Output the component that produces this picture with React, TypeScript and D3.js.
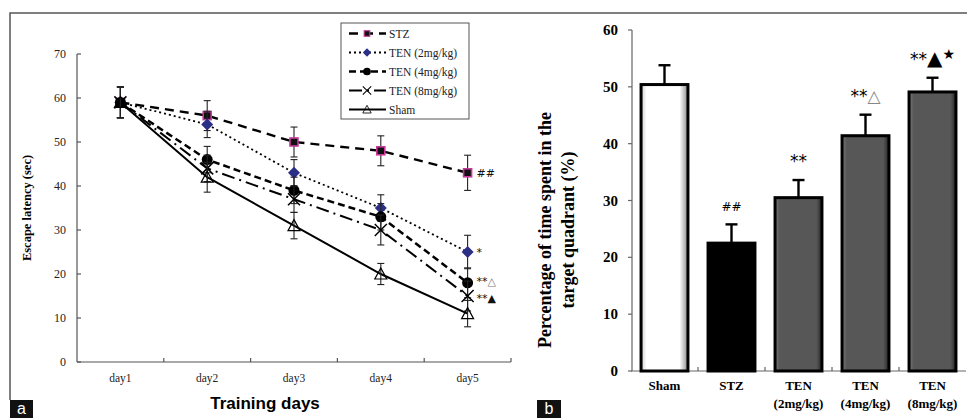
import React from 'react';
import * as d3 from 'd3';

const days = ['day1', 'day2', 'day3', 'day4', 'day5'];
const seriesNames = ['STZ', 'TEN (2mg/kg)', 'TEN (4mg/kg)', 'TEN (8mg/kg)', 'Sham'];
const stzLatency = [59, 56, 50, 48, 43];
const ten2Latency = [59, 54, 43, 35, 25];
const ten4Latency = [59, 46, 39, 33, 18];
const ten8Latency = [59, 44, 37, 30, 15];
const shamLatency = [59, 42, 31, 20, 11];
const stzErr = [3.5, 3.4, 3.4, 3.4, 4];
const ten2Err = [3.5, 3, 3, 3, 3.8];
const ten4Err = [3.5, 3, 3, 3, 3.4];
const ten8Err = [3.5, 3, 3, 3.4, 3.4];
const shamErr = [3.5, 3.4, 3, 2.4, 3];
const latencyTicks = [0, 10, 20, 30, 40, 50, 60, 70];
const day5Marks = ['##', '*', '**△', '**▲', ''];

const groups = ['Sham', 'STZ', 'TEN (2mg/kg)', 'TEN (4mg/kg)', 'TEN (8mg/kg)'];
const percentTime = [50.4, 22.5, 30.5, 41.4, 49.1];
const percentErr = [3.4, 3.3, 3.1, 3.7, 2.5];
const percentTicks = [0, 10, 20, 30, 40, 50, 60];
const barMarks = ['', '##', '**', '**△', '**▲★'];

const serif = '"Liberation Serif", "Times New Roman", serif';
const sans = '"Liberation Sans", Arial, sans-serif';

const series = [
  { name: seriesNames[0], values: stzLatency, err: stzErr, dash: '9,6', width: 2.4, marker: 'square' },
  { name: seriesNames[1], values: ten2Latency, err: ten2Err, dash: '2,3', width: 1.8, marker: 'diamond' },
  { name: seriesNames[2], values: ten4Latency, err: ten4Err, dash: '7,4', width: 2.5, marker: 'circle' },
  { name: seriesNames[3], values: ten8Latency, err: ten8Err, dash: '13,5,2,5', width: 2, marker: 'cross' },
  { name: seriesNames[4], values: shamLatency, err: shamErr, dash: '', width: 2, marker: 'triangle' },
];

function Marker({ type, x, y }: { type: string; x: number; y: number }) {
  if (type === 'square')
    return <rect x={x - 4} y={y - 4} width={8} height={8} fill="#111" stroke="#c8379b" strokeWidth={1.6} />;
  if (type === 'diamond')
    return <path d={`M${x},${y - 6}L${x + 6},${y}L${x},${y + 6}L${x - 6},${y}Z`} fill="#2c2f86" />;
  if (type === 'circle') return <circle cx={x} cy={y} r={5.5} fill="#000" />;
  if (type === 'cross')
    return (
      <path d={`M${x - 6},${y - 6}L${x + 6},${y + 6}M${x - 6},${y + 6}L${x + 6},${y - 6}`} stroke="#000" strokeWidth={1.5} />
    );
  return <path d={`M${x},${y - 6}L${x + 6},${y + 5}L${x - 6},${y + 5}Z`} fill="none" stroke="#000" strokeWidth={1.2} />;
}

export default function App() {
  // left panel scales
  const xL = d3.scaleBand<string>().domain(days).range([77, 511]);
  const yL = d3.scaleLinear().domain([0, 70]).range([362, 54]);
  const cx = (d: string) => (xL(d) as number) + xL.bandwidth() / 2;
  const line = d3
    .line<number>()
    .x((_, i) => cx(days[i]))
    .y((v) => yL(v));

  // right panel scales
  const xR = d3.scaleBand<string>().domain(groups).range([631, 966]).paddingInner(0.3).paddingOuter(0.15);
  const yR = d3.scaleLinear().domain([0, 60]).range([371, 30]);
  const step = xR.step();

  const legendY = d3.scaleBand<string>().domain(seriesNames).range([24, 119]);

  return (
    <svg width={967} height={418} style={{ position: 'absolute', left: 0, top: 0, background: '#fff' }}>
      <defs>
        <linearGradient id="gWhite" x1="0" x2="1" y1="0" y2="0">
          <stop offset="0" stopColor="#cfcfcf" />
          <stop offset="0.12" stopColor="#ffffff" />
          <stop offset="0.82" stopColor="#ffffff" />
          <stop offset="1" stopColor="#8a8a8a" />
        </linearGradient>
        <linearGradient id="gGray" x1="0" x2="1" y1="0" y2="0">
          <stop offset="0" stopColor="#7a7a7a" />
          <stop offset="0.1" stopColor="#575757" />
          <stop offset="0.88" stopColor="#575757" />
          <stop offset="1" stopColor="#262626" />
        </linearGradient>
      </defs>

      {/* frame */}
      <path d="M10,400V13H967" fill="none" stroke="#555" strokeWidth={1.5} />

      {/* ---- panel a ---- */}
      <g stroke="#555" strokeWidth={1.2}>
        <line x1={77} x2={77} y1={yL(70)} y2={yL(0)} />
        <line x1={77} x2={511} y1={yL(0)} y2={yL(0)} />
        {latencyTicks.map((t) => (
          <line key={t} x1={77} x2={81} y1={yL(t)} y2={yL(t)} />
        ))}
        {days.map((d) => {
          const bx = (xL(d) as number) + xL.bandwidth();
          return <line key={d} x1={bx} x2={bx} y1={yL(0)} y2={yL(0) - 4} />;
        })}
      </g>
      {latencyTicks.map((t) => (
        <text key={t} x={66} y={yL(t) + 4} textAnchor="end" fontFamily={serif} fontSize={12} fill="#222">
          {t}
        </text>
      ))}
      {days.map((d) => (
        <text key={d} x={cx(d)} y={382} textAnchor="middle" fontFamily={serif} fontSize={11.5} fill="#222">
          {d}
        </text>
      ))}
      <text x={265} y={409} textAnchor="middle" fontFamily={sans} fontWeight="bold" fontSize={17}>
        Training days
      </text>
      <text
        transform={`translate(31,${yL(35)}) rotate(-90)`}
        textAnchor="middle"
        fontFamily={serif}
        fontWeight="bold"
        fontSize={12.5}
      >
        Escape latency (sec)
      </text>

      {series.map((s) => (
        <g key={s.name}>
          <path d={line(s.values) || ''} fill="none" stroke="#000" strokeWidth={s.width} strokeDasharray={s.dash} />
          {s.values.map((v, i) => {
            const x = cx(days[i]);
            const top = yL(v + s.err[i]);
            const bot = yL(v - s.err[i]);
            return (
              <g key={i} stroke="#222" strokeWidth={1.1}>
                <line x1={x} x2={x} y1={top} y2={bot} />
                <line x1={x - 3.5} x2={x + 3.5} y1={top} y2={top} />
                <line x1={x - 3.5} x2={x + 3.5} y1={bot} y2={bot} />
              </g>
            );
          })}
          {s.values.map((v, i) => (
            <Marker key={'m' + i} type={s.marker} x={cx(days[i])} y={yL(v)} />
          ))}
        </g>
      ))}
      {series.map((s, i) => (
        <text
          key={s.name}
          x={cx('day5') + 9}
          y={yL(s.values[4]) + (i === 2 ? 2 : i === 3 ? 6 : 4)}
          fontFamily='"DejaVu Sans", sans-serif'
          fontSize={11}
        >
          {day5Marks[i].split('').map((c, j) => (
            <tspan key={j} fill={c === '△' ? '#777' : '#111'}>
              {c}
            </tspan>
          ))}
        </text>
      ))}

      {/* legend */}
      <rect x={341} y={23} width={128} height={96} fill="#fff" stroke="#555" strokeWidth={1} />
      {series.map((s) => {
        const y = (legendY(s.name) as number) + legendY.bandwidth() / 2;
        return (
          <g key={s.name}>
            <line x1={349} x2={386} y1={y} y2={y} stroke="#000" strokeWidth={s.width} strokeDasharray={s.dash} />
            <g transform={`translate(${367},${y}) scale(0.7) translate(${-367},${-y})`}>
              <Marker type={s.marker} x={367} y={y} />
            </g>
            <text x={389} y={y + 4} fontFamily={serif} fontSize={11.5} fill="#222">
              {s.name}
            </text>
          </g>
        );
      })}

      {/* ---- panel b ---- */}
      <g stroke="#666" strokeWidth={1.2}>
        <line x1={632} x2={632} y1={yR(60)} y2={yR(0)} />
        <line x1={631} x2={966} y1={yR(0)} y2={yR(0)} />
        {percentTicks.map((t) => (
          <line key={t} x1={628} x2={632} y1={yR(t)} y2={yR(t)} />
        ))}
        {groups.slice(0, 4).map((g) => {
          const bx = (xR(g) as number) + xR.bandwidth() + (step - xR.bandwidth()) / 2;
          return <line key={g} x1={bx} x2={bx} y1={yR(0)} y2={yR(0) - 4} />;
        })}
      </g>
      {percentTicks.map((t) => (
        <text key={t} x={618} y={yR(t) + 5} textAnchor="end" fontFamily={serif} fontWeight="bold" fontSize={15}>
          {t}
        </text>
      ))}
      <text
        transform={`translate(551,230) rotate(-90)`}
        textAnchor="middle"
        fontFamily={serif}
        fontWeight="bold"
        fontSize={18}
      >
        <tspan x={0} dy={0}>Percentage of time spent in the</tspan>
        <tspan x={0} dy={23}>target quadrant (%)</tspan>
      </text>
      {groups.map((g, i) => {
        const x = xR(g) as number;
        const w = xR.bandwidth();
        const c = x + w / 2;
        const top = yR(percentTime[i]);
        const et = yR(percentTime[i] + percentErr[i]);
        const fill = i === 0 ? 'url(#gWhite)' : i === 1 ? '#000' : 'url(#gGray)';
        const lines = g.includes('(') ? [g.slice(0, 3), g.slice(4)] : [g];
        return (
          <g key={g}>
            <line x1={c} x2={c} y1={et} y2={top} stroke="#000" strokeWidth={2.4} />
            <line x1={c - 6} x2={c + 6} y1={et} y2={et} stroke="#000" strokeWidth={2.4} />
            <rect x={x} y={top} width={w} height={yR(0) - top} fill={fill} stroke="#000" strokeWidth={3} />
            {barMarks[i] && (
              <text x={c} y={et - 13} textAnchor="middle" fontFamily='"DejaVu Sans", sans-serif' fontSize={i === 1 ? 12 : 17}>
                {barMarks[i].split('').map((ch, j) => (
                  <tspan
                    key={j}
                    fill={ch === '△' ? '#888' : '#000'}
                    fontSize={ch === '★' ? 14 : ch === '▲' ? 20 : undefined}
                    dy={ch === '★' ? -6 : j > 0 && barMarks[i][j - 1] === '★' ? 6 : 0}
                  >
                    {ch}
                  </tspan>
                ))}
              </text>
            )}
            {lines.map((l, k) => (
              <text key={k} x={c} y={390 + k * 18} textAnchor="middle" fontFamily={serif} fontWeight="bold" fontSize={13}>
                {l}
              </text>
            ))}
          </g>
        );
      })}

      {/* panel labels */}
      <rect x={10} y={400} width={23} height={18} fill="#111" />
      <text x={21.5} y={414} textAnchor="middle" fill="#fff" fontFamily={sans} fontSize={16}>
        a
      </text>
      <rect x={537} y={400} width={24} height={18} fill="#111" />
      <text x={549} y={414} textAnchor="middle" fill="#fff" fontFamily={sans} fontSize={16}>
        b
      </text>
    </svg>
  );
}
